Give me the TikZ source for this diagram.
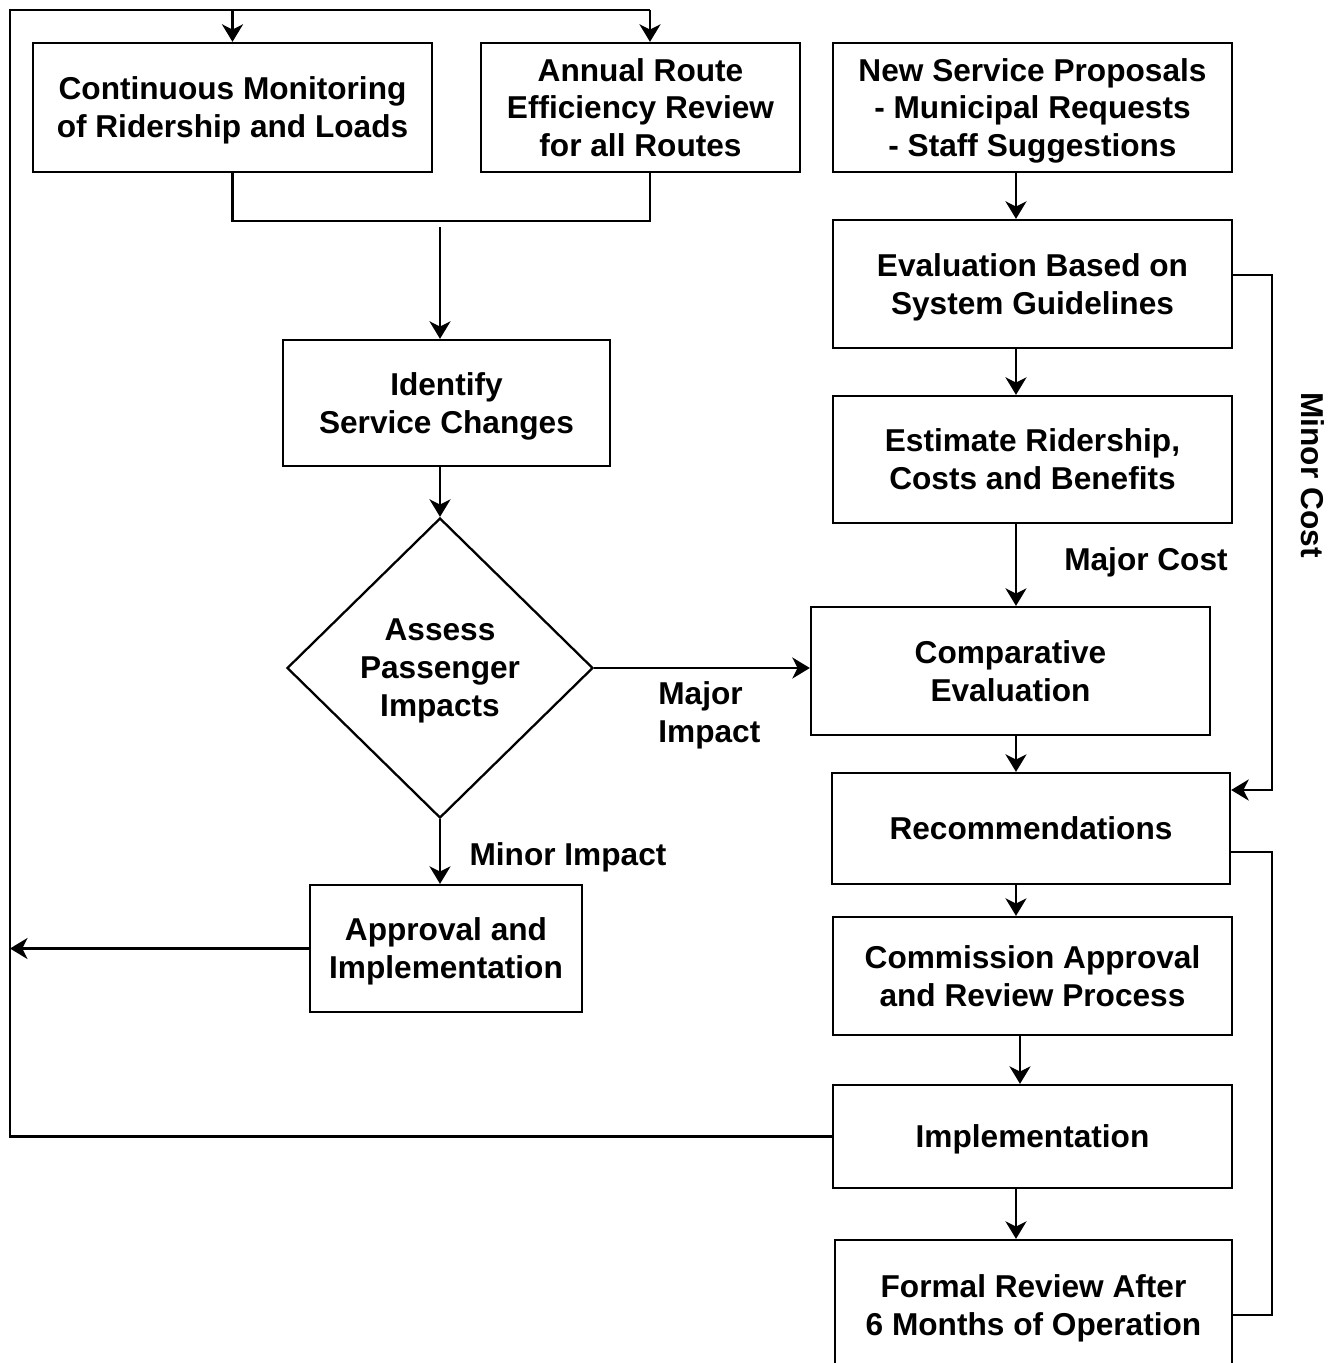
\documentclass[tikz,border=0pt]{standalone}
\usepackage{fontspec}
\setmainfont{Liberation Sans}
\usetikzlibrary{arrows.meta}
\usetikzlibrary{shapes.geometric}

\begin{document}
\begin{tikzpicture}[x=0.02cm, y=-0.02cm, >={Stealth[length=10pt,width=12pt,inset=3pt]},
        box/.style={draw, line width=1.3pt, align=center, inner sep=0pt, text depth=0pt, font=\bfseries\fontsize{18}{21.6}\selectfont},
        wh/.style 2 args={minimum width=#1*0.02cm, minimum height=#2*0.02cm},
        lbl/.style={inner sep=0pt, font=\bfseries\fontsize{18}{21.6}\selectfont},
        conn/.style={line width=1.3pt}]
        \useasboundingbox (0,0) rectangle (1340,1363);

        \coordinate (tl) at (10,10);
        \coordinate (rx) at (650,0);
        \coordinate (spine) at (1016,0);
        \coordinate (jn) at (440,221);
        \coordinate (mc1) at (1272,275);
        \coordinate (mc2) at (1272,790);
        \coordinate (fb1) at (1272,852);
        \coordinate (fb2) at (1272,1315);

        % left side
        \node[box, wh={399}{129}] (mon) at (232.5,107.5) {Continuous Monitoring\\of Ridership and Loads};
        \node[box, wh={319}{129}] (ann) at (640.5,107.5) {Annual Route\\Efficiency Review\\for all Routes};
        \node[box, wh={327}{126}] (ident) at (446.5,403) {Identify\\Service Changes};
        \node[box, diamond, wh={306}{300}] (dia) at (440,668) {Assess\\Passenger\\Impacts};
        \node[box, wh={272}{127}] (appr) at (446,948.5) {Approval and\\Implementation};

        % right side
        \node[box, wh={399}{129}] (new) at (1032.5,107.5) {New Service Proposals\\- Municipal Requests\\- Staff Suggestions};
        \node[box, wh={399}{128}] (eval) at (1032.5,284) {Evaluation Based on\\System Guidelines};
        \node[box, wh={399}{127}] (est) at (1032.5,459.5) {Estimate Ridership,\\Costs and Benefits};
        \node[box, wh={399}{128}] (comp) at (1010.5,671) {Comparative\\Evaluation};
        \node[box, wh={398}{111}] (rec) at (1031,828.5) {Recommendations};
        \node[box, wh={399}{118}] (comm) at (1032.5,976) {Commission Approval\\and Review Process};
        \node[box, wh={399}{103}] (impl) at (1032.5,1136.5) {Implementation};
        \node[box, wh={397}{130}] (rev) at (1033.5,1305) {Formal Review After\\6 Months of Operation};

        % labels
        \node[lbl, align=left, anchor=west] (majimp) at (658,715) {Major\\Impact};
        \node[lbl] (minimp) at (568,857) {Minor Impact};
        \node[lbl] (majcost) at (1146,562) {Major Cost};
        \node[lbl, rotate=-90] (mincost) at (1313,475) {Minor Cost};

        % feedback loop
        \draw[conn] (impl.west) -- (impl.west -| tl) -- (tl) -- (tl -| rx);
        \draw[conn, ->] (tl -| mon.north) -- (mon.north);
        \draw[conn, ->] (tl -| rx) -- (rx |- ann.north);
        \draw[conn, ->] (appr.west) -- (appr.west -| tl);

        \draw[conn] (mon.south) -- (mon.south |- jn) -- (jn -| rx) -- (rx |- ann.south);
        \draw[conn, ->] ([yshift=-0.12cm]jn) -- (ident.north -| jn);
        \draw[conn, ->] (ident.south -| dia.north) -- (dia.north);
        \draw[conn, ->] (dia.east) -- (dia.east -| comp.west);
        \draw[conn, ->] (dia.south) -- (dia.south |- appr.north);

        \draw[conn, ->] (new.south -| spine) -- (eval.north -| spine);
        \draw[conn, ->] (eval.south -| spine) -- (est.north -| spine);
        \draw[conn, ->] (est.south -| spine) -- (comp.north -| spine);
        \draw[conn, ->] (comp.south -| spine) -- (rec.north -| spine);
        \draw[conn, ->] (rec.south -| spine) -- (comm.north -| spine);
        \draw[conn, ->] ([xshift=0.08cm]comm.south -| spine) -- ([xshift=0.08cm]impl.north -| spine);
        \draw[conn, ->] (impl.south -| spine) -- (rev.north -| spine);

        \draw[conn, ->] (eval.east |- mc1) -- (mc1) -- (mc2) -- (mc2 -| rec.east);
        \draw[conn] (rec.east |- fb1) -- (fb1) -- (fb2) -- (fb2 -| rev.east);
    \end{tikzpicture}
\end{document}
